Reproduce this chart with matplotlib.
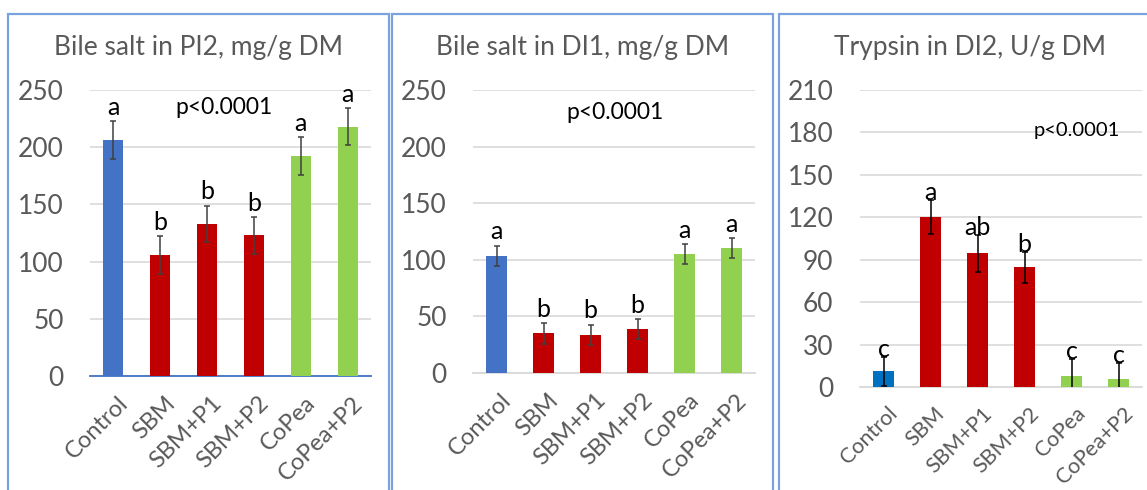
import matplotlib
matplotlib.use("Agg")
import matplotlib.pyplot as plt
from matplotlib.patches import Rectangle
from matplotlib.transforms import ScaledTranslation

plt.rcParams['font.family'] = ['Lato', 'DejaVu Sans']

categories = ["Control", "SBM", "SBM+P1", "SBM+P2", "CoPea", "CoPea+P2"]

titles = ["Bile salt in PI2, mg/g DM", "Bile salt in DI1, mg/g DM", "Trypsin in DI2, U/g DM"]

pi2_bile = [206, 106, 133, 123, 192, 218]
pi2_err = [16.5, 16.5, 16, 16, 16.5, 16]
pi2_letters = ["a", "b", "b", "b", "a", "a"]

di1_bile = [103.5, 35, 33.8, 38.6, 105, 110.2]
di1_err = [9, 9, 9, 9, 9, 9]
di1_letters = ["a", "b", "b", "b", "a", "a"]

di2_trypsin = [11, 120.5, 94.6, 84.8, 7.5, 5.9]
di2_err = [10.5, 12, 13, 11, 12, 11]
di2_letters = ["c", "a", "ab", "b", "c", "c"]

p_text = "p<0.0001"

W, H = 1147, 490
fig = plt.figure(figsize=(W / 100, H / 100), dpi=100)

BLUE1 = "#4472C4"
BLUE2 = "#0070C0"
RED = "#C00000"
GREEN = "#92D050"
GRAY_TXT = "#595959"
GRID = "#D9D9D9"

def px_axes(x0, x1, ytop, ybot):
    return fig.add_axes([x0 / W, 1 - ybot / H, (x1 - x0) / W, (ybot - ytop) / H])

# panel borders
for (bx0, bx1) in [(8, 389), (392, 773), (779, 1160)]:
    fig.patches.append(Rectangle((bx0 / W, -0.1), (bx1 - bx0) / W, 1.1 - 14 / H,
                                 transform=fig.transFigure, fill=False,
                                 edgecolor="#7AA3DE", lw=1.6, zorder=0))

panels = [
    dict(box=(90, 371, 90, 376), vals=pi2_bile, err=pi2_err, letters=pi2_letters,
         ymax=250, step=50, colors=[BLUE1, RED, RED, RED, GREEN, GREEN],
         ecolor="#404040", base=BLUE1, loff=4.5, ptxt=(2.36, 229), pfs=16.5,
         title_x=199, xfs=17),
    dict(box=(473, 755, 90, 373), vals=di1_bile, err=di1_err, letters=di1_letters,
         ymax=250, step=50, colors=[BLUE1, RED, RED, RED, GREEN, GREEN],
         ecolor="#404040", base=GRID, loff=4.5, ptxt=(2.52, 224), pfs=16.5,
         title_x=583, xfs=17),
    dict(box=(860, 1142, 90, 387), vals=di2_trypsin, err=di2_err, letters=di2_letters,
         ymax=210, step=30, colors=[BLUE2, RED, RED, RED, GREEN, GREEN],
         ecolor="#000000", base=GRID, loff=0, ptxt=(4.12, 177.5), pfs=14.5,
         title_x=970, xfs=15.5),
]

shift = ScaledTranslation(4 / 100, 0, fig.dpi_scale_trans)

for p, title in zip(panels, titles):
    ax = px_axes(*p["box"])
    x = list(range(len(categories)))
    ax.bar(x, p["vals"], width=0.43, color=p["colors"], zorder=3)
    ax.errorbar(x, p["vals"], yerr=p["err"], fmt="none", ecolor=p["ecolor"],
                elinewidth=1.1, capsize=2.5, capthick=1.1, zorder=4)
    for xi, v, e, lab in zip(x, p["vals"], p["err"], p["letters"]):
        ax.annotate(lab, (xi, v + e), xytext=(0, p["loff"]), textcoords="offset points",
                    ha="center", va="baseline", fontsize=18, color="black", zorder=5)
    ax.set_xlim(-0.5, len(categories) - 0.5)
    ax.set_ylim(0, p["ymax"])
    ax.set_yticks(range(0, p["ymax"] + 1, p["step"]))
    ax.yaxis.grid(True, color=GRID, lw=1.2, zorder=0)
    ax.set_axisbelow(True)
    for s in ["top", "right", "left"]:
        ax.spines[s].set_visible(False)
    ax.spines["bottom"].set_color(p["base"])
    ax.spines["bottom"].set_linewidth(1.3)
    ax.set_facecolor("none")
    ax.tick_params(axis="y", length=0, pad=19, labelsize=19, labelcolor=GRAY_TXT)
    ax.tick_params(axis="x", length=0, pad=12, labelsize=p["xfs"], labelcolor=GRAY_TXT)
    ax.set_xticks(x)
    ax.set_xticklabels(categories, rotation=45, ha="right", rotation_mode="anchor")
    for lbl in ax.get_xticklabels():
        lbl.set_transform(lbl.get_transform() + shift)
    ax.text(p["ptxt"][0], p["ptxt"][1], p_text, ha="center", va="baseline",
            fontsize=p["pfs"], color="black")
    fig.text(p["title_x"] / W, 1 - 55 / H, title, ha="center", va="baseline",
             fontsize=19, color=GRAY_TXT)

fig.savefig("out.png", dpi=100, facecolor="white")
